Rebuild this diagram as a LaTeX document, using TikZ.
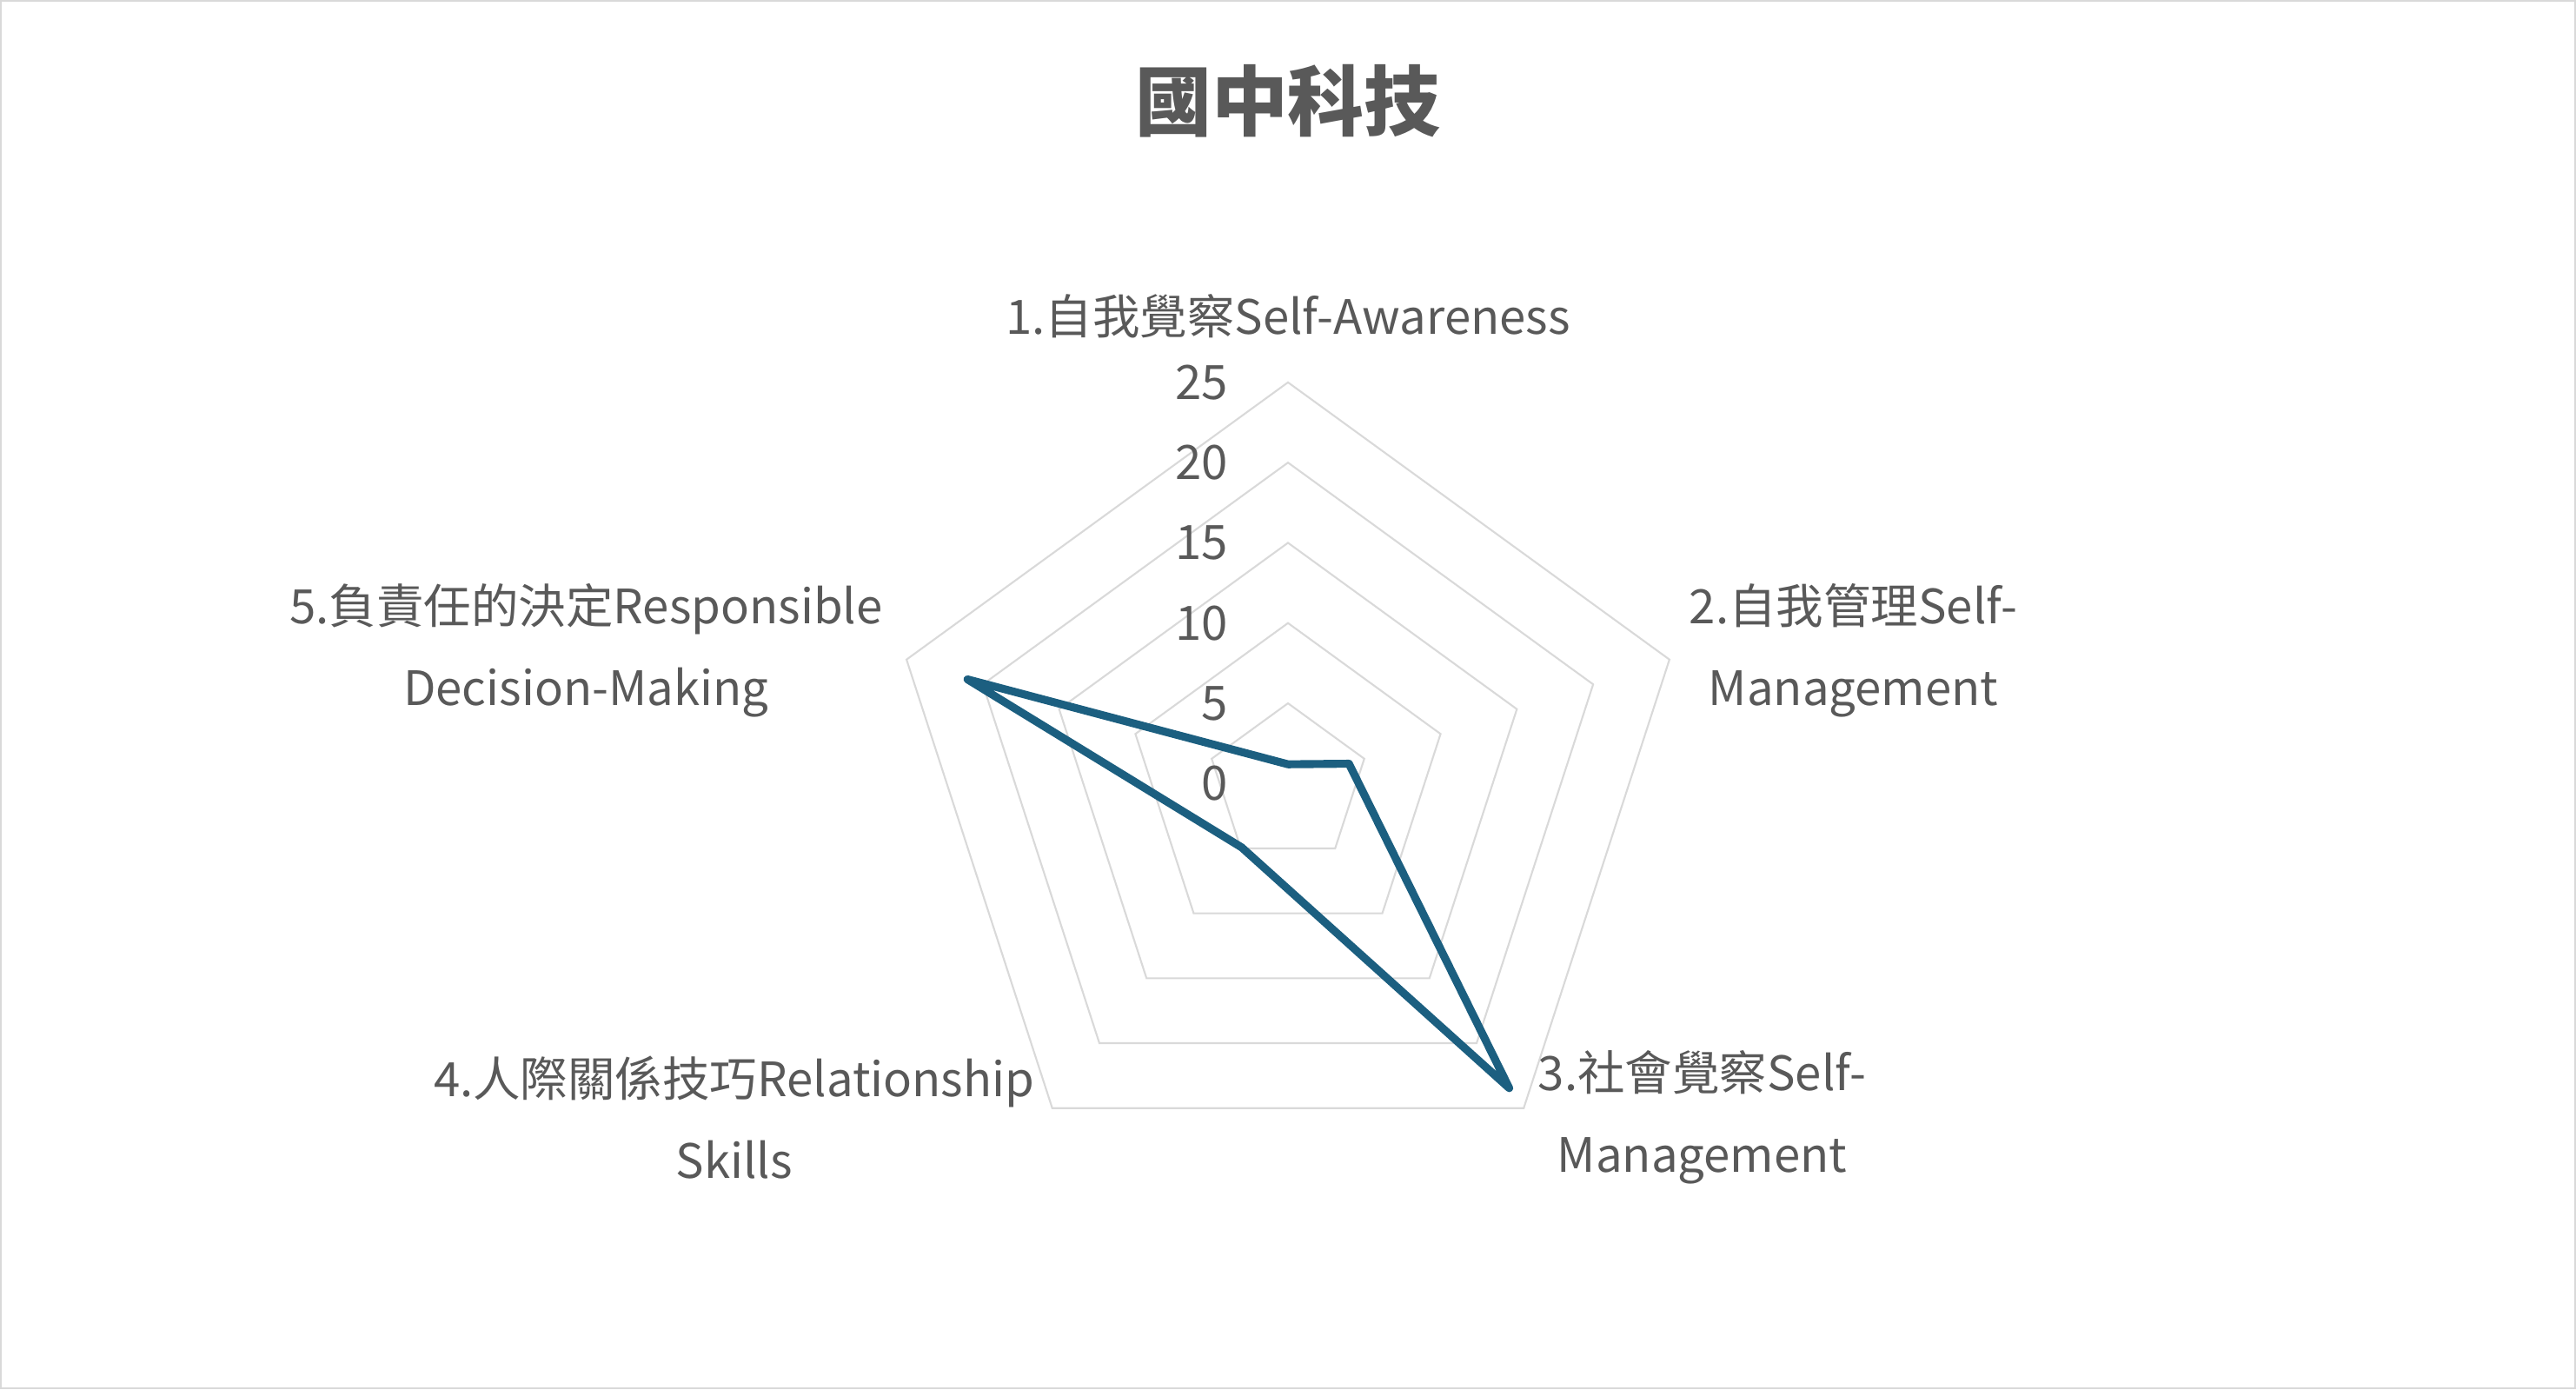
\documentclass[tikz,border=0pt]{standalone}
\usepackage{fontspec}
\setmainfont{Noto Sans CJK TC}
\definecolor{gridgray}{HTML}{D9D9D9}
\definecolor{textgray}{HTML}{595959}
\definecolor{serieblue}{HTML}{1C5F80}
\begin{document}
\begin{tikzpicture}[x=0.0189cm, y=0.0189cm,
    lbl/.style={text=textgray, font=\fontsize{15.5}{26.8}\selectfont, align=center, inner sep=0pt}]
    % frame
    \draw[gridgray, line width=0.6pt] (-783,-368) rectangle (783,476);
    \node[text=textgray, font=\fontsize{25}{30}\selectfont\bfseries] (title) at (0,415) {國中科技};

    % grid
    \foreach \r in {48.8,97.6,146.4,195.2,244}
        \draw[gridgray, line width=0.6pt] (90:\r) -- (18:\r) -- (-54:\r) -- (-126:\r) -- (162:\r) -- cycle;
    \foreach \v [count=\i from 0] in {0,5,10,15,20,25}
        \node[lbl, anchor=east] (t\v) at (-36,\i*48.8) {\v};

    % labels
    \node[lbl] (a1) at (0,284) {1.自我覺察Self-Awareness};
    \node[lbl] (a2) at (344,81) {2.自我管理Self-\\Management};
    \node[lbl] (a3) at (252,-203) {3.社會覺察Self-\\Management};
    \node[lbl] (a4) at (-337,-203) {4.人際關係技巧Relationship\\Skills};
    \node[lbl] (a5) at (-427,81) {5.負責任的決定Responsible\\Decision-Making};

    % data
    \draw[serieblue, line width=2.6pt, line join=round]
        (90:11.7) -- (18:39) -- (-54:229) -- (-126:48) -- (162:205) -- cycle;
\end{tikzpicture}
\end{document}
